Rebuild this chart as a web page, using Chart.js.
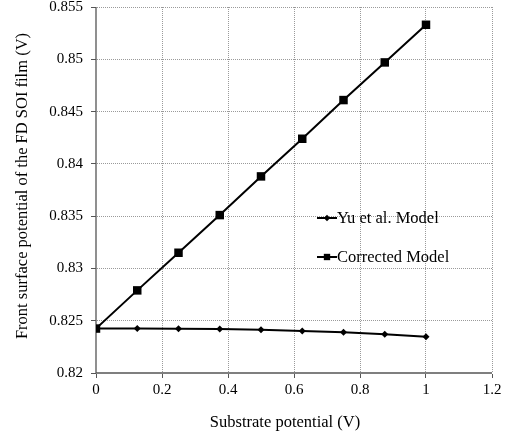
<!DOCTYPE html>
<html><head><meta charset="utf-8">
<script src="https://cdn.jsdelivr.net/npm/chart.js@4/dist/chart.umd.min.js"></script>
<style>html,body{margin:0;padding:0;background:#fff}#wrap{width:509px;height:437px;overflow:hidden;position:relative}#c{position:absolute;left:0;top:-10px}</style>
</head><body><div id="wrap"><canvas id="c" width="509" height="447"></canvas></div>
<script>
const substratePotential = [0, 0.125, 0.25, 0.375, 0.5, 0.625, 0.75, 0.875, 1];
const yuModel = [0.82425, 0.82425, 0.82424, 0.82421, 0.82414, 0.82402, 0.82389, 0.82370, 0.82347];
const correctedModel = [0.82425, 0.8279, 0.8315, 0.8351, 0.8388, 0.8424, 0.8461, 0.8497, 0.8533];
const seriesNames = ["Yu et al. Model", "Corrected Model"];
const xTitle = "Substrate potential (V)";
const yTitle = "Front surface potential of the FD SOI film (V)";

const FONT = "'Liberation Serif', 'Times New Roman', serif";
const OFF = 10;

const axesPlugin = {
  id: 'solidAxes',
  beforeDatasetsDraw(chart) {
    const {ctx, chartArea: a} = chart;
    ctx.save();
    ctx.strokeStyle = '#555';
    ctx.lineWidth = 1.3;
    ctx.setLineDash([]);
    ctx.beginPath();
    ctx.moveTo(a.left, a.top); ctx.lineTo(a.left, a.bottom); ctx.lineTo(a.right, a.bottom);
    ctx.stroke();
    ctx.restore();
  }
};

const overlayPlugin = {
  id: 'overlay',
  afterDraw(chart) {
    const ctx = chart.ctx;
    const items = [
      {name: seriesNames[0], y: 218 + OFF, style: 'rectRot', r: 3.2},
      {name: seriesNames[1], y: 257 + OFF, style: 'rect', r: 4.5}
    ];
    ctx.save();
    items.forEach(it => {
      ctx.strokeStyle = '#000';
      ctx.lineWidth = 2;
      ctx.beginPath(); ctx.moveTo(317, it.y); ctx.lineTo(337, it.y); ctx.stroke();
      ctx.fillStyle = '#000';
      Chart.helpers.drawPoint(ctx, {pointStyle: it.style, radius: it.r, borderWidth: 0}, 327, it.y);
      ctx.font = "16.5px " + FONT;
      ctx.textBaseline = 'middle';
      ctx.textAlign = 'left';
      ctx.fillText(it.name, 337, it.y + 1);
    });
    ctx.fillStyle = '#000';
    ctx.font = "16.5px " + FONT;
    ctx.textAlign = 'center';
    ctx.textBaseline = 'middle';
    ctx.fillText(xTitle, 285, 423 + OFF);
    ctx.translate(23, 186 + OFF);
    ctx.rotate(-Math.PI / 2);
    ctx.fillText(yTitle, 0, 0);
    ctx.restore();
  }
};

const fmt = v => String(Number(Number(v).toFixed(4)));
const gridColor = (edge) => (c) => (c.tick && Math.abs(c.tick.value - edge) < 1e-9) ? 'rgba(0,0,0,0)' : '#9a9a9a';

new Chart(document.getElementById('c'), {
  type: 'line',
  data: {
    datasets: [
      {label: seriesNames[0], data: substratePotential.map((x, i) => ({x, y: yuModel[i]})),
       borderColor: '#000', backgroundColor: '#000', borderWidth: 2, pointStyle: 'rectRot', pointRadius: 3.5, pointBorderWidth: 0, tension: 0},
      {label: seriesNames[1], data: substratePotential.map((x, i) => ({x, y: correctedModel[i]})),
       borderColor: '#000', backgroundColor: '#000', borderWidth: 2, pointStyle: 'rect', pointRadius: 6, pointBorderWidth: 0, tension: 0}
    ]
  },
  options: {
    responsive: false, animation: false, devicePixelRatio: 1,
    layout: {padding: {left: 0, right: 17, top: 7, bottom: 0}},
    plugins: {legend: {display: false}, tooltip: {enabled: false}},
    scales: {
      x: {
        type: 'linear', min: 0, max: 1.2,
        ticks: {stepSize: 0.2, color: '#000', font: {family: FONT, size: 15}, padding: 3, callback: v => fmt(v), maxRotation: 0},
        grid: {color: gridColor(0), lineWidth: 1, tickLength: 5, tickColor: '#555', tickBorderDash: [], drawTicks: true},
        border: {display: true, color: 'rgba(0,0,0,0)', width: 1, dash: [1, 1]},
        title: {display: false},
        afterFit: s => { s.height = 64; }
      },
      y: {
        type: 'linear', min: 0.82, max: 0.855,
        ticks: {stepSize: 0.005, color: '#000', font: {family: FONT, size: 15}, padding: 8, callback: v => fmt(v)},
        grid: {color: gridColor(0.82), lineWidth: 1, tickLength: 5, tickColor: '#555', tickBorderDash: [], drawTicks: true},
        border: {display: true, color: 'rgba(0,0,0,0)', width: 1, dash: [1, 1]},
        title: {display: false},
        afterFit: s => { s.width = 96; }
      }
    }
  },
  plugins: [axesPlugin, overlayPlugin]
});
</script></body></html>
